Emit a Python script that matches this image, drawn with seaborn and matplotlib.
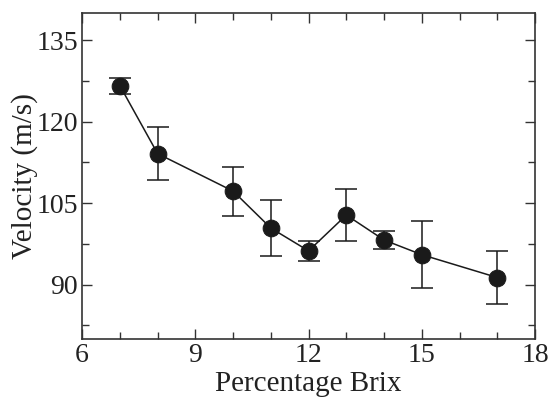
import seaborn as sns
import matplotlib.pyplot as plt
import pandas as pd
from matplotlib.ticker import MultipleLocator

brix = [7, 8, 10, 11, 12, 13, 14, 15, 17]
velocity = [126.6, 114.1, 107.2, 100.4, 96.2, 102.8, 98.2, 95.5, 91.3]
err = [1.5, 4.9, 4.5, 5.2, 1.9, 4.7, 1.6, 6.2, 4.9]

df = pd.DataFrame({"brix": brix, "velocity": velocity, "err": err})

sns.set_style("ticks")
plt.rcParams["font.family"] = ["Liberation Serif", "DejaVu Serif"]

fig = plt.figure(figsize=(5.55, 4.03), dpi=100)
ax = fig.add_axes([0.148, 0.159, 0.816, 0.809])

ax.errorbar(df["brix"], df["velocity"], yerr=df["err"], fmt="none",
            ecolor="#1a1a1a", elinewidth=1.1, capsize=8, capthick=1.1, zorder=2)
sns.lineplot(data=df, x="brix", y="velocity", ax=ax, color="#1a1a1a",
             linewidth=1.1, marker="o", markersize=12, markeredgecolor="#1a1a1a",
             markerfacecolor="#1a1a1a", zorder=3)

ax.set_xlim(6, 18)
ax.set_ylim(80, 140)
ax.xaxis.set_major_locator(MultipleLocator(3))
ax.xaxis.set_minor_locator(MultipleLocator(1))
ax.yaxis.set_major_locator(MultipleLocator(15))
ax.yaxis.set_minor_locator(MultipleLocator(7.5))
ax.set_yticks([90, 105, 120, 135])
ax.tick_params(which="both", direction="in", top=True, right=True,
               labelsize=20, color="#333333", labelcolor="#222222")
ax.tick_params(which="major", length=7, width=1, pad=3)
ax.tick_params(which="minor", length=5, width=1)
for s in ax.spines.values():
    s.set_color("#333333")
    s.set_linewidth(1.2)

ax.set_xlabel("Percentage Brix", fontsize=21, labelpad=2, color="#222222")
ax.set_ylabel("Velocity (m/s)", fontsize=21, labelpad=-1, color="#222222")

fig.savefig("out.png", dpi=100)
